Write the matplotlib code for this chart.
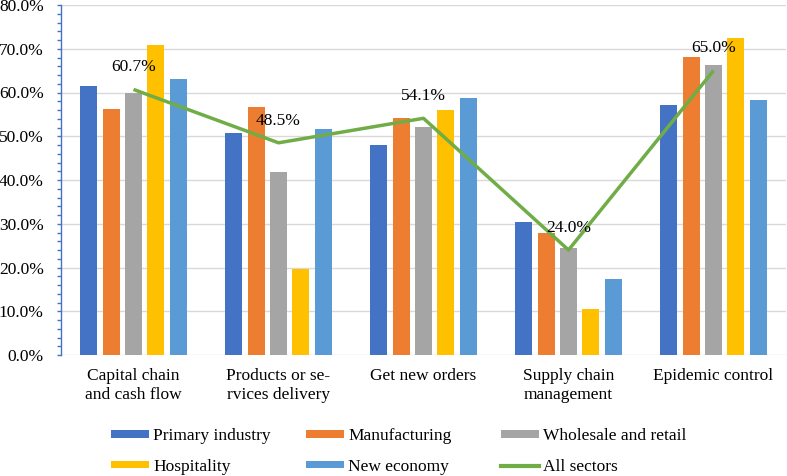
import matplotlib

matplotlib.use("Agg")
import matplotlib.pyplot as plt
import numpy as np
from matplotlib.patches import Patch
from matplotlib.lines import Line2D
from matplotlib.ticker import FuncFormatter, MultipleLocator

plt.rcParams["font.family"] = ["Liberation Serif", "DejaVu Serif"]

CATEGORIES = [
    "Capital chain\nand cash flow",
    "Products or se-\nrvices delivery",
    "Get new orders",
    "Supply chain\nmanagement",
    "Epidemic control",
]
SERIES = ["Primary industry", "Manufacturing", "Wholesale and retail", "Hospitality", "New economy"]
PRIMARY = [61.5, 50.7, 48.1, 30.4, 57.1]
MANUFACTURING = [56.2, 56.6, 54.1, 28.0, 68.2]
WHOLESALE = [60.0, 41.9, 52.2, 24.4, 66.4]
HOSPITALITY = [70.9, 19.7, 56.0, 10.5, 72.5]
NEW_ECONOMY = [63.2, 51.7, 58.7, 17.4, 58.4]
ALL_SECTORS = [60.7, 48.5, 54.1, 24.0, 65.0]

COLORS = ["#4472C4", "#ED7D31", "#A5A5A5", "#FFC000", "#5B9BD5"]
LINE_COLOR = "#70AD47"
AXIS_BLUE = "#4472C4"
FS = 12.5

fig = plt.figure(figsize=(7.87, 4.76), dpi=100)
ax = fig.add_axes([61 / 787, 121 / 476, 725 / 787, 350 / 476])

x = np.arange(len(CATEGORIES))
step = 0.154
width = 0.117
values = [PRIMARY, MANUFACTURING, WHOLESALE, HOSPITALITY, NEW_ECONOMY]
for i, (vals, color) in enumerate(zip(values, COLORS)):
    ax.bar(x + (i - 2) * step, vals, width=width, color=color, zorder=2)

ax.plot(x, ALL_SECTORS, color=LINE_COLOR, linewidth=2.5, zorder=3, solid_capstyle="butt")
for xi, v in zip(x, ALL_SECTORS):
    ax.annotate(f"{v:.1f}%", (xi, v), xytext=(0, 16), textcoords="offset points",
                ha="center", va="center", fontsize=FS, zorder=4)

ax.set_xlim(-0.5, len(CATEGORIES) - 0.5)
ax.set_ylim(0, 80)
ax.yaxis.set_major_locator(MultipleLocator(10))
ax.yaxis.set_minor_locator(MultipleLocator(2))
ax.yaxis.set_major_formatter(FuncFormatter(lambda v, _: f"{v:.1f}%"))
ax.grid(axis="y", which="major", color="#D9D9D9", linewidth=1.0, zorder=0)
ax.set_axisbelow(True)

for side in ["top", "right", "bottom"]:
    ax.spines[side].set_visible(False)
ax.spines["left"].set_color(AXIS_BLUE)
ax.spines["left"].set_linewidth(1.0)
ax.tick_params(axis="y", which="both", direction="out", length=3, width=1, color=AXIS_BLUE,
               labelsize=FS, pad=9.5)
ax.tick_params(axis="x", length=0, labelsize=FS, pad=9)
ax.set_xticks(x)
ax.set_xticklabels(CATEGORIES, linespacing=1.3)

handles = [Patch(facecolor=c, edgecolor="none") for c in COLORS]
handles.append(Line2D([], [], color=LINE_COLOR, linewidth=3))
labels = SERIES + ["All sectors"]
# one legend per column so the columns sit at fixed positions
columns = [[0, 3], [1, 4], [2, 5]]
col_x = [104, 299, 494]
for xpos, idx in zip(col_x, columns):
    fig.legend([handles[i] for i in idx], [labels[i] for i in idx], loc="upper left",
               bbox_to_anchor=(xpos / 787, 1 - 421 / 476), frameon=False, fontsize=FS,
               handlelength=2.2, handleheight=0.3, handletextpad=0.25, labelspacing=0.85,
               borderaxespad=0, borderpad=0.4)

fig.savefig("out.png", dpi=100)
